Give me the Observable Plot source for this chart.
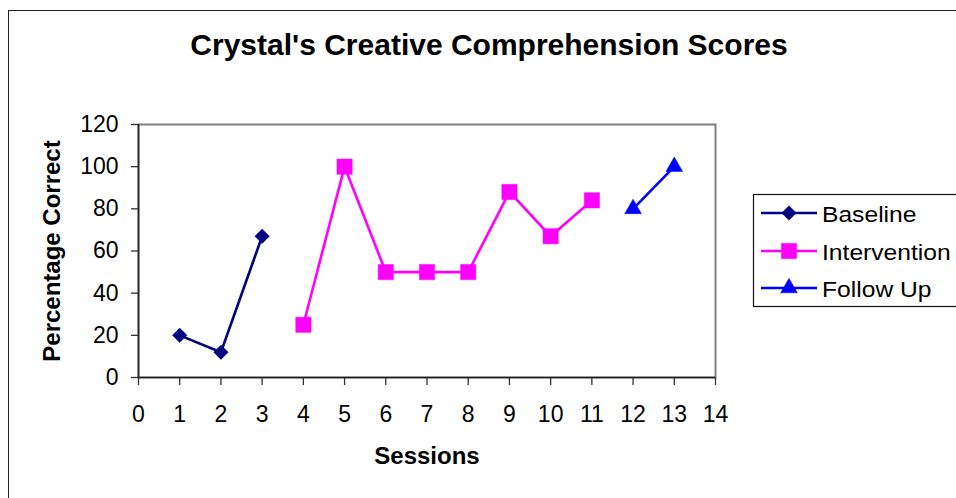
<!DOCTYPE html>
<html>
<head>
<meta charset="utf-8">
<script src="https://cdn.jsdelivr.net/npm/d3@7"></script>
<script src="https://cdn.jsdelivr.net/npm/@observablehq/plot@0.6"></script>
<style>
  html, body { margin: 0; padding: 0; background: #fff; overflow: hidden; }
  #wrap { position: relative; width: 956px; height: 498px; overflow: hidden; font-family: "Liberation Sans", Arial, sans-serif; }
  #outer { position: absolute; left: 8px; top: 10px; width: 1200px; height: 800px; border-left: 1.5px solid #222; border-top: 1.5px solid #222; box-sizing: border-box; }
  #chart { position: absolute; left: 0; top: 0; }
  #legend { position: absolute; left: 0; top: 0; pointer-events: none; }
</style>
</head>
<body>
<div id="wrap">
  <div id="outer"></div>
  <div id="chart"></div>
  <svg id="legend" width="956" height="498"></svg>
</div>
<script>
// ---- data ----
const seriesNames = ["Baseline", "Intervention", "Follow Up"];
const seriesColors = ["#000080", "#FF00FF", "#0000FF"];
const baselineSessions = [1, 2, 3];
const baselineScores = [20, 12, 67];
const interventionSessions = [4, 5, 6, 7, 8, 9, 10, 11];
const interventionScores = [25, 100, 50, 50, 50, 88, 67, 84];
const followUpSessions = [12, 13];
const followUpScores = [80, 100];
const xTicks = [0, 1, 2, 3, 4, 5, 6, 7, 8, 9, 10, 11, 12, 13, 14];
const yTicks = [0, 20, 40, 60, 80, 100, 120];
const titleText = "Crystal's Creative Comprehension Scores";
const xLabel = "Sessions";
const yLabel = "Percentage Correct";

const rows = [
  ...baselineSessions.map((s, i) => ({session: s, score: baselineScores[i], series: seriesNames[0]})),
  ...interventionSessions.map((s, i) => ({session: s, score: interventionScores[i], series: seriesNames[1]})),
  ...followUpSessions.map((s, i) => ({session: s, score: followUpScores[i], series: seriesNames[2]}))
];

// custom diamond symbol (square-ish rhombus)
const diamond = {
  draw(ctx, size) {
    const s = Math.sqrt(size / 2);
    ctx.moveTo(0, -s); ctx.lineTo(s, 0); ctx.lineTo(0, s); ctx.lineTo(-s, 0); ctx.closePath();
  }
};
const symbols = [diamond, d3.symbolSquare, d3.symbolTriangle];
const radii = [5.8, 8.6, 6.2];

const font = '"Liberation Sans", Arial, sans-serif';

const chart = Plot.plot({
  width: 956,
  height: 498,
  marginLeft: 138,
  marginRight: 241,
  marginTop: 124,
  marginBottom: 121,
  style: {fontFamily: font, color: "#000", background: "transparent"},
  x: {domain: [0, 14], label: null},
  y: {domain: [0, 120], label: null},
  color: {domain: seriesNames, range: seriesColors},
  marks: [
    Plot.frame({stroke: "#808080", strokeWidth: 2}),
    Plot.axisX(xTicks, {tickSize: 8, tickPadding: 20, fontSize: 23, stroke: "#333", strokeWidth: 1.3, tickFormat: d => String(d)}),
    Plot.axisY(yTicks, {tickSize: 7, tickPadding: 13, fontSize: 23, stroke: "#333", strokeWidth: 1.3, tickFormat: d => String(d)}),
    Plot.ruleX([0], {stroke: "#222", strokeWidth: 1.6}),
    Plot.ruleY([0], {stroke: "#222", strokeWidth: 1.6}),
    Plot.line(rows, {x: "session", y: "score", z: "series", stroke: "series", strokeWidth: 2.6}),
    ...seriesNames.map((name, i) =>
      Plot.dot(rows.filter(d => d.series === name), {
        x: "session", y: "score", fill: seriesColors[i], stroke: seriesColors[i], strokeWidth: 0.5,
        symbol: symbols[i], r: radii[i]
      })
    ),
    Plot.text([titleText], {frameAnchor: "top", dx: 62, dy: -79, text: d => d, fontSize: 30, fontWeight: "bold", lineAnchor: "middle", textAnchor: "middle", fill: "#000"}),
    Plot.text([xLabel], {frameAnchor: "bottom", dy: 79, text: d => d, fontSize: 24, fontWeight: "bold", lineAnchor: "middle", textAnchor: "middle", fill: "#000"}),
    Plot.text([yLabel], {frameAnchor: "left", dx: -86, text: d => d, fontSize: 24, fontWeight: "bold", rotate: -90, lineAnchor: "middle", textAnchor: "middle", fill: "#000"})
  ]
});
document.getElementById("chart").appendChild(chart);

// ---- legend ----
const lg = d3.select("#legend");
lg.append("rect").attr("x", 753.5).attr("y", 194.5).attr("width", 260).attr("height", 112)
  .attr("fill", "#fff").attr("stroke", "#111").attr("stroke-width", 1.2);
const rowY = [213, 251, 288];
seriesNames.forEach((name, i) => {
  const g = lg.append("g");
  g.append("line").attr("x1", 761).attr("x2", 817).attr("y1", rowY[i]).attr("y2", rowY[i])
    .attr("stroke", seriesColors[i]).attr("stroke-width", 2.6);
  g.append("path").attr("transform", `translate(789,${rowY[i]})`)
    .attr("d", d3.symbol(symbols[i], Math.PI * radii[i] * radii[i])())
    .attr("fill", seriesColors[i]).attr("stroke", seriesColors[i]).attr("stroke-width", 0.5);
  g.append("text").attr("transform", `translate(822,${rowY[i] + 9}) scale(1.12,1)`)
    .attr("font-family", font).attr("font-size", 22).attr("fill", "#000").text(name);
});
</script>
</body>
</html>
